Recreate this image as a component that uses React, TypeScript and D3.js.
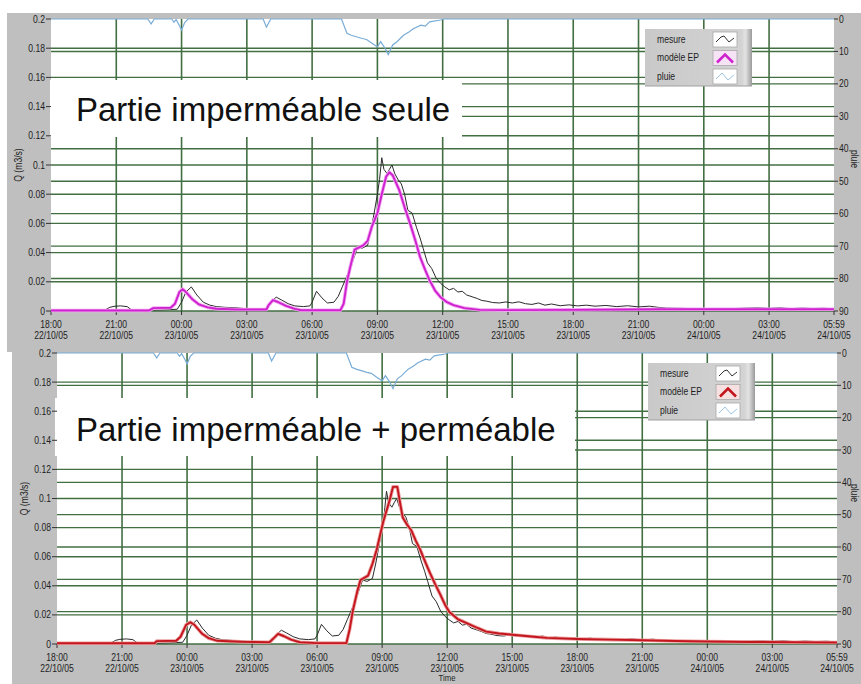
import React from "react";
import * as d3 from "d3";

const START = new Date(2005, 9, 22, 18, 0);
const END = new Date(2005, 9, 24, 5, 59);

// [hours since 18:00 22/10/05, Q m3/s]
const measured: [number, number][] = [
  [0, 0.0005], [1, 0.0005], [2, 0.0005], [2.5, 0.0008], [2.7, 0.0025], [2.9, 0.0032], [3.2, 0.0035],
  [3.5, 0.003], [3.7, 0.0008], [4.0, 0.0005], [4.6, 0.0006], [5.2, 0.0008], [5.8, 0.0012], [6.0, 0.006],
  [6.2, 0.013], [6.45, 0.0165], [6.7, 0.011], [7.0, 0.006], [7.3, 0.004], [7.6, 0.003], [8.0, 0.0025],
  [8.5, 0.0022], [9.0, 0.0015], [9.5, 0.0012], [9.9, 0.0015], [10.1, 0.006], [10.35, 0.0095],
  [10.6, 0.0075], [10.9, 0.005], [11.2, 0.0035], [11.6, 0.003], [11.9, 0.0035], [12.0, 0.006],
  [12.2, 0.0135], [12.45, 0.009], [12.7, 0.0055], [13.0, 0.006], [13.2, 0.01], [13.4, 0.017],
  [13.6, 0.024], [13.8, 0.031], [14.0, 0.04], [14.1, 0.044], [14.3, 0.043], [14.55, 0.045],
  [14.7, 0.055], [14.85, 0.067], [15.0, 0.08], [15.1, 0.09], [15.2, 0.105], [15.3, 0.097],
  [15.45, 0.094], [15.55, 0.097], [15.67, 0.1], [15.8, 0.094], [15.95, 0.09], [16.1, 0.087],
  [16.25, 0.08], [16.4, 0.069], [16.6, 0.067], [16.8, 0.057], [16.96, 0.05], [17.1, 0.043],
  [17.3, 0.033], [17.5, 0.029], [17.7, 0.0225], [17.9, 0.019], [18.1, 0.0165], [18.3, 0.0145],
  [18.5, 0.0155], [18.7, 0.013], [18.9, 0.0135], [19.1, 0.011], [19.4, 0.0095], [19.6, 0.0085],
  [19.8, 0.0072], [20.0, 0.0068], [20.3, 0.0058], [20.6, 0.0055], [20.9, 0.0062], [21.2, 0.0055],
  [21.5, 0.0063], [21.8, 0.005], [22.1, 0.0045], [22.4, 0.0055], [22.7, 0.004], [23.0, 0.0048],
  [23.4, 0.0036], [23.8, 0.0042], [24.2, 0.0035], [24.6, 0.004], [25.0, 0.0033], [25.5, 0.0038],
  [26.0, 0.003], [26.5, 0.0036], [27.0, 0.0028], [27.5, 0.0033], [27.9, 0.0025], [28.3, 0.002],
  [29, 0.0018], [30, 0.0015], [31, 0.0015], [32, 0.002], [32.5, 0.0022], [33, 0.0018], [33.5, 0.0022],
  [34, 0.0016], [34.5, 0.002], [35, 0.0017], [35.5, 0.0019], [35.98, 0.0015],
];

const modelImperm: [number, number][] = [
  [0, 0.0003], [4.5, 0.0003], [4.7, 0.002], [5.5, 0.0022], [5.7, 0.005], [5.9, 0.013], [6.05, 0.015],
  [6.2, 0.013], [6.5, 0.008], [6.8, 0.0045], [7.2, 0.0025], [7.6, 0.0015], [8.5, 0.001], [9.9, 0.001],
  [10.0, 0.004], [10.2, 0.0075], [10.45, 0.006], [10.8, 0.0035], [11.2, 0.0015], [11.5, 0.0005],
  [13.3, 0.0005], [13.45, 0.005], [13.6, 0.02], [13.75, 0.03], [13.95, 0.042], [14.35, 0.045],
  [14.55, 0.048], [14.75, 0.058], [15.0, 0.067], [15.2, 0.08], [15.4, 0.092], [15.55, 0.095],
  [15.7, 0.093], [16.0, 0.083], [16.25, 0.071], [16.5, 0.06], [16.75, 0.048], [16.96, 0.037],
  [17.2, 0.028], [17.4, 0.021], [17.65, 0.014], [17.9, 0.0095], [18.2, 0.006], [18.5, 0.004],
  [19.0, 0.002], [19.7, 0.0008], [21, 0.0006], [24, 0.0008], [26.5, 0.001], [28, 0.0012], [35.98, 0.0012],
];

const modelPerm: [number, number][] = [
  [0, 0.0005], [4.5, 0.0005], [4.6, 0.002], [5.5, 0.0022], [5.7, 0.005], [5.95, 0.013], [6.15, 0.015],
  [6.35, 0.013], [6.7, 0.007], [7.0, 0.004], [7.4, 0.0022], [8.5, 0.0015], [9.8, 0.0012], [10.0, 0.004],
  [10.2, 0.007], [10.45, 0.0055], [10.8, 0.003], [11.2, 0.0012], [12, 0.0006], [13.35, 0.0006],
  [13.5, 0.01], [13.65, 0.023], [13.85, 0.036], [14.0, 0.044], [14.35, 0.047], [14.55, 0.055],
  [14.75, 0.065], [15.05, 0.084], [15.35, 0.099], [15.5, 0.108], [15.7, 0.108], [15.85, 0.095],
  [15.95, 0.087], [16.15, 0.082], [16.35, 0.078], [16.55, 0.071], [16.75, 0.065], [17.0, 0.056],
  [17.2, 0.049], [17.45, 0.041], [17.65, 0.035], [17.9, 0.027], [18.1, 0.022], [18.5, 0.017],
  [18.9, 0.0144], [19.4, 0.011], [19.8, 0.0085], [20.4, 0.0072], [21.0, 0.0064], [22.0, 0.005],
  [22.6, 0.0042], [24.0, 0.0034], [25.5, 0.003], [27.0, 0.0026], [28.5, 0.0021], [30.0, 0.0017],
  [32, 0.0014], [34, 0.0012], [35.98, 0.001],
];

// [hours, rain] (right axis, inverted)
const rain: [number, number][] = [
  [0, 0], [4.45, 0], [4.6, 1.5], [4.75, 0], [5.55, 0], [5.65, 1], [5.75, 0.2], [5.9, 2], [6.0, 3.4],
  [6.15, 1], [6.3, 0], [9.75, 0], [9.9, 2.5], [10.1, 0], [13.35, 0], [13.6, 4.4], [13.8, 5], [14.3, 6],
  [14.5, 6.3], [14.75, 7.5], [15.0, 8.6], [15.15, 7], [15.35, 9], [15.5, 11], [15.7, 8], [15.9, 7],
  [16.2, 5], [16.45, 4], [16.65, 3], [17.0, 1.9], [17.2, 2.2], [17.4, 0.9], [17.9, 0.3], [18.05, 0],
  [35.98, 0],
];

const qTicks = [0, 0.02, 0.04, 0.06, 0.08, 0.1, 0.12, 0.14, 0.16, 0.18, 0.2];
const rainTicks = [0, 10, 20, 30, 40, 50, 60, 70, 80, 90];
const legendLabels = ["mesure", "modèle EP", "pluie"];
const panelTitles = ["Partie imperméable seule", "Partie imperméable + perméable"];

const toDate = (h: number) => new Date(START.getTime() + h * 3600000);
const fmtTime = d3.timeFormat("%H:%M");
const fmtDate = d3.timeFormat("%d/%m/%y");

const GRAY = "#bfbfbf";
const GRID = "#426f42";
const FONT = "'Liberation Sans', Arial, sans-serif";

type Cfg = {
  bg: [number, number, number, number];
  x0: number; x1: number; y0: number; y1: number;
  box: [number, number, number, number];
  title: string; titleX: number; titleY: number;
  legend: [number, number];
  model: [number, number][];
  modelColor: string; haloColor: string;
  swatchBg: string;
  showTime: boolean;
};

const panels: Cfg[] = [
  {
    bg: [7, 13, 861, 352], x0: 51, x1: 834, y0: 19, y1: 311,
    box: [50, 80, 462, 137], title: panelTitles[0], titleX: 76, titleY: 121,
    legend: [645, 29], model: modelImperm, modelColor: "#cf22cf", haloColor: "#f2a6f2",
    swatchBg: "#f6e4f6", showTime: false,
  },
  {
    bg: [12, 352, 861, 684], x0: 57, x1: 837, y0: 353, y1: 644,
    box: [55, 398, 575, 456], title: panelTitles[1], titleX: 76, titleY: 441,
    legend: [648, 363], model: modelPerm, modelColor: "#c4161e", haloColor: "#eba0a0",
    swatchBg: "#f6e0e0", showTime: true,
  },
];

function SText(props: { x: number; y: number; anchor?: string; size?: number; children: any; fill?: string }) {
  const { x, y, anchor = "middle", size = 10, fill = "#1e1e1e" } = props;
  return (
    <text
      transform={`translate(${x},${y}) scale(0.86,1)`}
      textAnchor={anchor as any}
      fontFamily={FONT}
      fontSize={size}
      fill={fill}
    >
      {props.children}
    </text>
  );
}

function Panel({ cfg, idx }: { cfg: Cfg; idx: number }) {
  const x = d3.scaleTime().domain([START, END]).range([cfg.x0, cfg.x1]);
  const yQ = d3.scaleLinear().domain([0, 0.2]).range([cfg.y1, cfg.y0]);
  const yR = d3.scaleLinear().domain([0, 90]).range([cfg.y0, cfg.y1]);
  const lineQ = d3.line<[number, number]>().x((d) => x(toDate(d[0]))).y((d) => yQ(d[1]));
  const lineR = d3.line<[number, number]>().x((d) => x(toDate(d[0]))).y((d) => yR(d[1]));
  const xTicks = [...d3.timeHour.range(START, END, 3), END];
  const [bx0, by0, bx1, by1] = cfg.bg;
  const [lx, ly] = cfg.legend;
  const gradId = `lg${idx}`;

  return (
    <g>
      <rect x={bx0} y={by0} width={bx1 - bx0} height={by1 - by0} fill={GRAY} />
      <rect x={cfg.x0} y={cfg.y0} width={cfg.x1 - cfg.x0} height={cfg.y1 - cfg.y0} fill="#ffffff" />
      {/* grid */}
      {xTicks.slice(1, -1).map((t, i) => (
        <line key={"v" + i} x1={x(t)} x2={x(t)} y1={cfg.y0} y2={cfg.y1} stroke={GRID} strokeWidth={1.6} />
      ))}
      {qTicks.slice(1, -1).map((v, i) => (
        <line key={"hq" + i} x1={cfg.x0} x2={cfg.x1} y1={yQ(v)} y2={yQ(v)} stroke={GRID} strokeWidth={1.4} />
      ))}
      {rainTicks.slice(1).map((v, i) => (
        <line key={"hr" + i} x1={cfg.x0} x2={cfg.x1} y1={yR(v)} y2={yR(v)} stroke={GRID} strokeWidth={1.4} />
      ))}
      {/* title box */}
      <rect x={cfg.box[0]} y={cfg.box[1]} width={cfg.box[2] - cfg.box[0]} height={cfg.box[3] - cfg.box[1]} fill="#ffffff" />
      <text x={cfg.titleX} y={cfg.titleY} fontFamily={FONT} fontSize={33} fill="#111">
        {cfg.title}
      </text>
      {/* left axis */}
      {qTicks.map((v, i) => (
        <g key={"lq" + i}>
          <line x1={cfg.x0 - 5} x2={cfg.x0} y1={yQ(v)} y2={yQ(v)} stroke="#333" strokeWidth={1} />
          <SText x={cfg.x0 - 6} y={yQ(v) + 3.5} anchor="end">{String(v)}</SText>
        </g>
      ))}
      <g transform={`translate(${cfg.x0 - 29},${(cfg.y0 + cfg.y1) / 2}) rotate(-90)`}>
        <SText x={0} y={0}>Q (m3/s)</SText>
      </g>
      {/* right axis */}
      {rainTicks.map((v, i) => (
        <g key={"rr" + i}>
          <line x1={cfg.x1} x2={cfg.x1 + 4} y1={yR(v)} y2={yR(v)} stroke="#333" strokeWidth={1} />
          <SText x={cfg.x1 + 5} y={yR(v) + 3.5} anchor="start">{String(v)}</SText>
        </g>
      ))}
      <g transform={`translate(${851},${cfg.y0 + 140}) rotate(90)`}>
        <SText x={0} y={0}>pluie</SText>
      </g>
      {/* x axis */}
      {xTicks.map((t, i) => (
        <g key={"xt" + i}>
          <line x1={x(t)} x2={x(t)} y1={cfg.y1} y2={cfg.y1 + 4} stroke="#333" strokeWidth={1} />
          <SText x={x(t)} y={cfg.y1 + 17}>{fmtTime(t)}</SText>
          <SText x={x(t)} y={cfg.y1 + 28}>{fmtDate(t)}</SText>
        </g>
      ))}
      {cfg.showTime && (
        <SText x={(cfg.x0 + cfg.x1) / 2} y={cfg.y1 + 37} size={9}>Time</SText>
      )}
      {/* series */}
      <path d={lineR(rain) || ""} fill="none" stroke="#79acd6" strokeWidth={1.2} />
      <path d={lineQ(measured) || ""} fill="none" stroke="#2b2b2b" strokeWidth={1} />
      <path d={lineQ(cfg.model) || ""} fill="none" stroke={cfg.haloColor} strokeWidth={3.6} strokeLinejoin="round" />
      <path d={lineQ(cfg.model) || ""} fill="none" stroke={cfg.modelColor} strokeWidth={1.9} strokeLinejoin="round" />
      {/* legend */}
      <defs>
        <linearGradient id={gradId} x1="0" x2="1" y1="0" y2="0">
          <stop offset="0" stopColor="#c9c9c9" />
          <stop offset="0.9" stopColor="#d3d3d3" />
          <stop offset="0.94" stopColor="#e2e2e2" />
          <stop offset="1" stopColor="#9a9a9a" />
        </linearGradient>
      </defs>
      <rect x={lx} y={ly} width={107} height={57} fill={`url(#${gradId})`} />
      <line x1={lx} x2={lx + 107} y1={ly + 57} y2={ly + 57} stroke="#a0a0a0" strokeWidth={1} />
      {legendLabels.map((lab, i) => {
        const ry = ly + 3 + i * 18.5;
        const sx = lx + 68;
        let icon;
        if (i === 0) {
          icon = <polyline points={`${sx + 3},${ry + 10} ${sx + 8},${ry + 5} ${sx + 11},${ry + 4} ${sx + 16},${ry + 10} ${sx + 21},${ry + 6}`} fill="none" stroke="#333" strokeWidth={1} />;
        } else if (i === 1) {
          icon = <polyline points={`${sx + 4},${ry + 12} ${sx + 12},${ry + 4} ${sx + 20},${ry + 12}`} fill="none" stroke={cfg.modelColor} strokeWidth={2.6} />;
        } else {
          icon = <polyline points={`${sx + 3},${ry + 10} ${sx + 9},${ry + 4} ${sx + 15},${ry + 11} ${sx + 21},${ry + 6}`} fill="none" stroke="#9cc3e3" strokeWidth={1} />;
        }
        return (
          <g key={"lg" + i}>
            <SText x={lx + 12} y={ry + 10.5} anchor="start">{lab}</SText>
            <rect x={sx} y={ry} width={24} height={15} fill={i === 1 ? cfg.swatchBg : "#ffffff"} stroke="#a8a8a8" strokeWidth={0.8} />
            {icon}
          </g>
        );
      })}
    </g>
  );
}

export default function App() {
  return (
    <svg
      width={861}
      height={684}
      viewBox="0 0 861 684"
      style={{ position: "absolute", left: 0, top: 0, display: "block", background: "#fff" }}
    >
      <rect x={0} y={0} width={861} height={684} fill="#ffffff" />
      {panels.map((p, i) => (
        <Panel key={i} cfg={p} idx={i} />
      ))}
    </svg>
  );
}
